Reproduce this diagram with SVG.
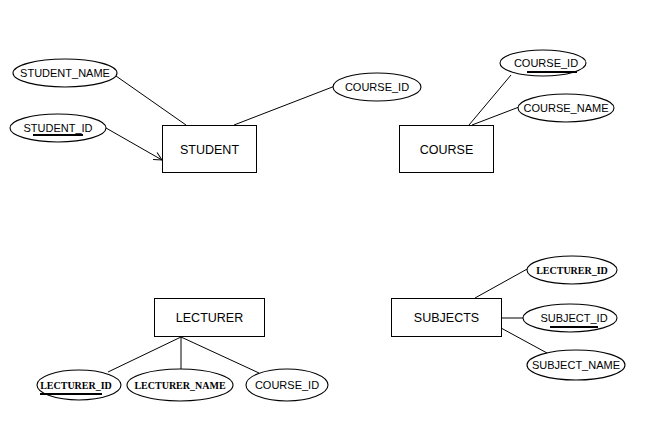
<svg xmlns="http://www.w3.org/2000/svg" width="656" height="425" viewBox="0 0 656 425">
<style>
.ent{fill:#fff;stroke:#000;stroke-width:1}
.att{fill:#fff;stroke:#000;stroke-width:1.1}
.t{font-family:"Liberation Sans",Arial,sans-serif;font-size:11px;fill:#000;text-anchor:middle}
.te{font-family:"Liberation Sans",Arial,sans-serif;font-size:12.5px;fill:#000;text-anchor:middle}
.tb{font-family:"Liberation Serif","Times New Roman",serif;font-size:10px;font-weight:bold;fill:#000;text-anchor:middle}
.ul{stroke:#000;stroke-width:2}
.c{stroke:#000;stroke-width:1;fill:none}
</style>
<defs>
<marker id="arr" markerWidth="10" markerHeight="10" refX="9" refY="5" orient="auto" markerUnits="userSpaceOnUse">
<path d="M1,1 L9,5 L1,9" fill="none" stroke="#000" stroke-width="1"/>
</marker>
</defs>
<rect width="656" height="425" fill="#fff"/>
<g id="connectors">
<line class="c" x1="116" y1="76" x2="186" y2="125"/>
<line class="c" x1="106" y1="128" x2="162" y2="160" marker-end="url(#arr)"/>
<line class="c" x1="234" y1="125" x2="335" y2="86"/>
<line class="c" x1="469" y1="125" x2="511" y2="75"/>
<line class="c" x1="472" y1="125" x2="519" y2="107"/>
<line class="c" x1="181" y1="337" x2="108" y2="372"/>
<line class="c" x1="181" y1="337" x2="181" y2="369"/>
<line class="c" x1="181" y1="337" x2="259" y2="373"/>
<line class="c" x1="475" y1="298" x2="529" y2="268"/>
<line class="c" x1="501" y1="318" x2="523" y2="318"/>
<line class="c" x1="501" y1="328" x2="547" y2="353"/>
</g>
<g id="student">
<rect class="ent" x="162.5" y="125.5" width="94" height="47"/>
<text class="te" x="209.5" y="153.5">STUDENT</text>
</g>
<g id="course">
<rect class="ent" x="399.5" y="125.5" width="94" height="47"/>
<text class="te" x="446.5" y="153.5">COURSE</text>
</g>
<g id="lecturer">
<rect class="ent" x="154.5" y="298.5" width="110" height="38"/>
<text class="te" x="209.5" y="322">LECTURER</text>
</g>
<g id="subjects">
<rect class="ent" x="391.5" y="298.5" width="110" height="38"/>
<text class="te" x="446.5" y="322">SUBJECTS</text>
</g>
<g id="student_name">
<ellipse class="att" cx="65" cy="73" rx="52" ry="14"/>
<text class="t" x="65" y="77">STUDENT_NAME</text>
</g>
<g id="student_id">
<ellipse class="att" cx="58" cy="128" rx="48" ry="14"/>
<text class="t" x="58" y="132">STUDENT_ID</text>
<line class="ul" x1="33" y1="135" x2="83" y2="135"/>
</g>
<g id="student_course_id">
<ellipse class="att" cx="377" cy="87" rx="44" ry="14"/>
<text class="t" x="377" y="91">COURSE_ID</text>
</g>
<g id="course_id">
<ellipse class="att" cx="543" cy="63" rx="43" ry="13"/>
<text class="t" x="546" y="67">COURSE_ID</text>
<line class="ul" x1="527" y1="72" x2="577" y2="72"/>
</g>
<g id="course_name">
<ellipse class="att" cx="566" cy="108" rx="48" ry="14"/>
<text class="t" x="566" y="112">COURSE_NAME</text>
</g>
<g id="lecturer_id">
<ellipse class="att" cx="79" cy="385" rx="42" ry="15"/>
<text class="tb" x="76" y="389">LECTURER_ID</text>
<line class="ul" x1="40" y1="394" x2="102" y2="394"/>
</g>
<g id="lecturer_name">
<ellipse class="att" cx="180" cy="385" rx="53" ry="16"/>
<text class="tb" x="180" y="389">LECTURER_NAME</text>
</g>
<g id="lecturer_course_id">
<ellipse class="att" cx="287" cy="385" rx="41" ry="16"/>
<text class="t" x="287" y="389">COURSE_ID</text>
</g>
<g id="subjects_lecturer_id">
<ellipse class="att" cx="572" cy="270" rx="45" ry="14"/>
<text class="tb" x="572" y="274">LECTURER_ID</text>
</g>
<g id="subject_id">
<ellipse class="att" cx="570" cy="318" rx="47" ry="14"/>
<text class="t" x="574" y="322">SUBJECT_ID</text>
<line class="ul" x1="550" y1="327" x2="598" y2="327"/>
</g>
<g id="subject_name">
<ellipse class="att" cx="576" cy="365" rx="49" ry="15"/>
<text class="t" x="576" y="369">SUBJECT_NAME</text>
</g>
</svg>
